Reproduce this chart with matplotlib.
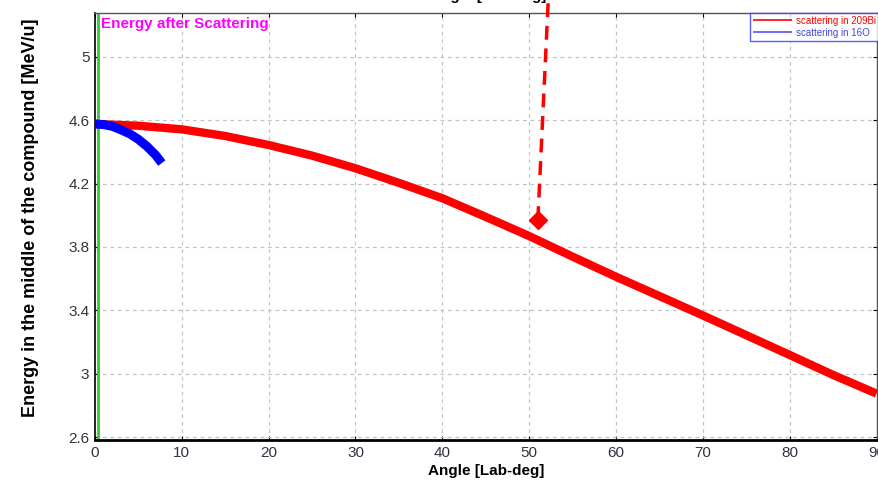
import matplotlib
matplotlib.use("Agg")
import matplotlib.pyplot as plt

plt.rcParams['font.family'] = ['Liberation Sans', 'DejaVu Sans']

# scattering in 209Bi
angle_bi = [0, 5, 10, 15, 20, 25, 30, 35, 40, 45, 50, 55, 60, 65, 70, 75, 80, 85, 90]
energy_bi = [4.577, 4.566, 4.543, 4.501, 4.444, 4.377, 4.297, 4.205, 4.108, 3.990,
             3.869, 3.739, 3.612, 3.490, 3.368, 3.243, 3.118, 2.992, 2.874]

# scattering in 16O
angle_o = [0, 1, 2, 3, 4, 5, 6, 7, 7.7]
energy_o = [4.577, 4.573, 4.562, 4.540, 4.515, 4.480, 4.435, 4.380, 4.330]

# cursor marker and its dashed guide
marker_x, marker_y = 51.0, 3.97
guide_x = [51.0, 52.2]
guide_y = [3.97, 5.36]

xticks = [0, 10, 20, 30, 40, 50, 60, 70, 80, 90]
yticks = [2.6, 3.0, 3.4, 3.8, 4.2, 4.6, 5.0]
ytick_labels = ['2.6', '3', '3.4', '3.8', '4.2', '4.6', '5']

fig = plt.figure(figsize=(8.79, 4.80), dpi=100)
ax = fig.add_axes([0.108, 0.0833, 0.8897, 0.8897])

ax.set_xlim(0, 90.05)
ax.set_ylim(2.581, 5.278)

ax.grid(True, linestyle=(0, (3, 3)), color='#c4c4c4', linewidth=0.9)
ax.set_axisbelow(True)

ax.axvline(0.4, color='#33cc33', linewidth=2.0, zorder=2)

ax.plot(angle_bi, energy_bi, color='#ff0000', linewidth=6, solid_capstyle='butt',
        solid_joinstyle='round', label='scattering in 209Bi', zorder=3)
ax.plot(angle_o, energy_o, color='#0000ff', linewidth=6.5, solid_capstyle='butt',
        solid_joinstyle='round', label='scattering in 16O', zorder=4)

ax.plot(guide_x, guide_y, color='#ff0000', linewidth=2.5, linestyle=(0, (4, 2.5)),
        clip_on=False, zorder=5)
ax.plot([marker_x], [marker_y], marker='D', color='#ff0000', markersize=9,
        linestyle='none', zorder=6)

ax.set_xticks(xticks)
ax.set_yticks(yticks)
ax.set_yticklabels(ytick_labels)
ax.tick_params(axis='both', direction='in', length=3, labelsize=11,
               labelcolor='#333340', top=True, right=True, pad=4)

for side in ['top', 'right']:
    ax.spines[side].set_color('#555555')
    ax.spines[side].set_linewidth(1.0)
ax.spines['bottom'].set_linewidth(2.0)
ax.spines['left'].set_linewidth(1.2)

ax.set_xlabel('Angle [Lab-deg]', fontsize=11, fontweight='bold', labelpad=3)
ax.set_ylabel('Energy in the middle of the compound [MeV/u]', fontsize=13,
              fontweight='bold')
ax.yaxis.set_label_coords(-0.072, 0.521)

ax.text(0.008, 0.99, 'Energy after Scattering', transform=ax.transAxes,
        color='#ff00ff', fontsize=11, fontweight='bold', va='top', ha='left')

# top label, clipped by the figure edge
fig.text(0.555, 1.0, 'Angle [Lab-deg]', fontsize=11, fontweight='bold',
         ha='center', va='baseline')

leg = ax.legend(loc='upper right', bbox_to_anchor=(1.002, 1.0), fontsize=7,
                frameon=True, fancybox=False, borderpad=0.3, handlelength=4,
                handletextpad=0.4, labelspacing=0.2, borderaxespad=0)
leg.get_frame().set_edgecolor('#3333ff')
leg.get_frame().set_linewidth(1.0)
for line, text in zip(leg.get_lines(), leg.get_texts()):
    line.set_linewidth(1.2)
    text.set_color(line.get_color())
leg.get_lines()[1].set_color('#5555ff')
leg.get_texts()[1].set_color('#4444dd')

fig.savefig('out.png', dpi=100)
